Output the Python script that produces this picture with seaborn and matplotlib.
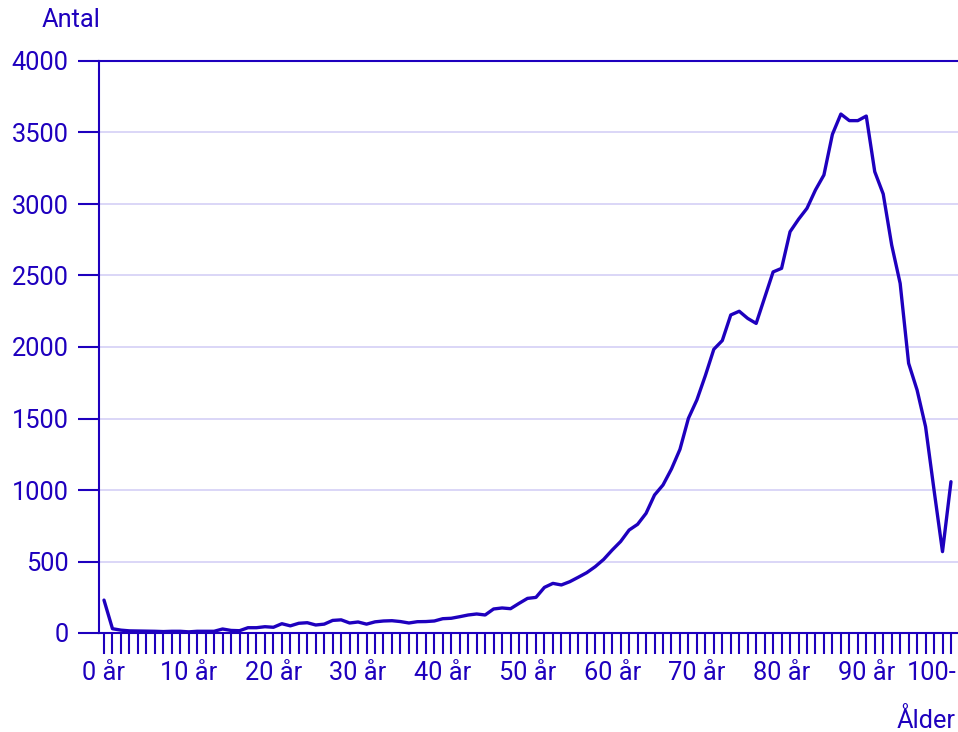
import pandas as pd
import matplotlib.pyplot as plt
import matplotlib.transforms as mtransforms
import seaborn as sns

# -------------------------------------------------
# Antal efter ålder
# -------------------------------------------------

ages = list(range(0, 101))
counts = [
    230, 30, 20, 15, 14, 13, 12, 10, 12, 12,
    8, 12, 12, 12, 28, 18, 16, 37, 37, 44,
    40, 65, 50, 68, 72, 56, 62, 88, 92, 70,
    77, 62, 78, 84, 86, 80, 70, 79, 80, 84,
    100, 103, 114, 126, 133, 126, 168, 175, 170, 207,
    242, 249, 319, 347, 336, 359, 390, 422, 464, 515,
    580, 640, 720, 760, 837, 965, 1035, 1147, 1284, 1501,
    1630, 1800, 1984, 2045, 2224, 2250, 2200, 2165, 2345, 2525,
    2550, 2806, 2893, 2970, 3098, 3203, 3487, 3629, 3583, 3583,
    3615, 3226, 3070, 2713, 2445, 1886, 1699, 1443, 1000, 569,
    1058,
]
tick_ages = list(range(0, 101, 10))
tick_labels = ["0 år", "10 år", "20 år", "30 år", "40 år", "50 år",
               "60 år", "70 år", "80 år", "90 år", "100-"]
y_ticks = [0, 500, 1000, 1500, 2000, 2500, 3000, 3500, 4000]

blue = "#1e00be"
grid_col = "#d4d0f6"
fs = 18.3

data = pd.DataFrame({"Ålder": ages, "Antal": counts})

sns.set_style("white")
plt.rcParams["font.family"] = ["Roboto", "DejaVu Sans"]

fig = plt.figure(figsize=(9.58, 7.32), dpi=100)
ax = fig.add_axes([99 / 958, 1 - 633 / 732, (958 - 99) / 958, (633 - 61) / 732])

sns.lineplot(data=data, x="Ålder", y="Antal", color=blue, linewidth=2.4, ax=ax)

ax.set_xlim(-0.59, 100.83)
ax.set_ylim(0, 4000)
ax.set_yticks(y_ticks)
ax.set_yticklabels([str(v) for v in y_ticks])
ax.set_xticks(tick_ages)
ax.set_xticks(ages, minor=True)
ax.set_xticklabels(tick_labels)

ax.yaxis.grid(True, color=grid_col, linewidth=1.2)
ax.set_axisbelow(True)

for side in ["left", "bottom", "top"]:
    ax.spines[side].set_visible(True)
    ax.spines[side].set_color(blue)
    ax.spines[side].set_linewidth(1.5)
ax.spines["right"].set_visible(False)

ax.tick_params(axis="y", which="major", length=15, width=1.5, color=blue,
               labelcolor=blue, labelsize=fs, pad=7, left=True)
ax.tick_params(axis="x", which="both", length=15, width=1.5, color=blue,
               labelcolor=blue, labelsize=fs, pad=5, bottom=True)

# last label shifted left so it stays inside the figure
last = ax.get_xticklabels()[-1]
last.set_horizontalalignment("right")
last.set_transform(last.get_transform() + mtransforms.ScaledTranslation(6 / 100, 0, fig.dpi_scale_trans))

ax.set_xlabel("")
ax.set_ylabel("")
fig.text(42 / 958, 1 - 20 / 732, "Antal", color=blue, fontsize=fs, ha="left", va="center")
fig.text(956 / 958, 1 - 720 / 732, "Ålder", color=blue, fontsize=fs, ha="right", va="center")

plt.savefig("out.png", dpi=100)
